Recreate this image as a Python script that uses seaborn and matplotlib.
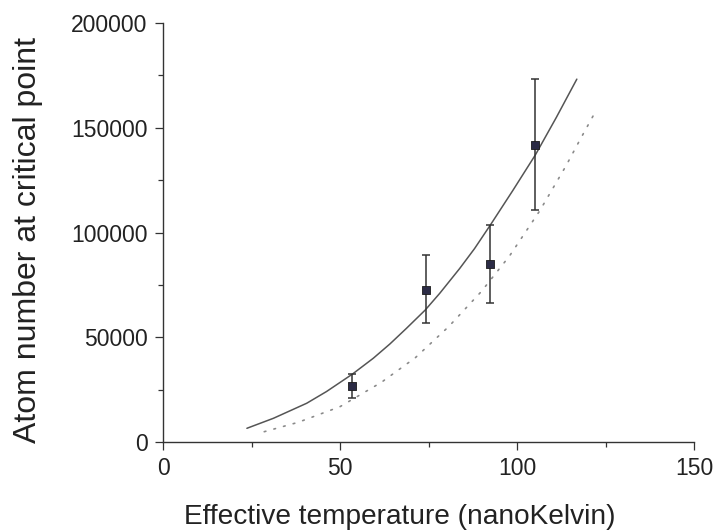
import matplotlib
matplotlib.use("Agg")
import matplotlib.pyplot as plt
from matplotlib.ticker import AutoMinorLocator
import numpy as np
import pandas as pd
import seaborn as sns

# Measured data points
temp_pts = [53.5, 74.3, 92.4, 105.0]
atoms_pts = [26900, 72700, 84900, 141700]
err_low = [20900, 57000, 66200, 110800]
err_high = [32600, 89300, 103500, 173300]

# Solid curve
solid_T = [23.7, 31.2, 40.6, 46.2, 53.5, 59.4, 64.1, 68.8, 74.1, 78.2, 83.8, 88.0, 92.5, 98.8, 105.2, 111.1, 116.9]
solid_N = [6540, 11320, 18500, 24100, 32400, 39970, 46800, 54300, 63040, 71020, 82800, 92300, 103640, 120000, 137070, 154900, 173200]

# Dotted curve
dot_T = [28.6, 38.2, 50.0, 61.7, 71.3, 80.7, 89.9, 97.9, 106.4, 113.8, 117.9, 122.1]
dot_N = [4920, 9400, 16860, 28500, 40260, 55070, 71780, 88830, 110300, 131700, 144600, 157500]

x_ticks = [0, 50, 100, 150]
y_ticks = [0, 50000, 100000, 150000, 200000]

sns.set_theme(style="ticks")
plt.rcParams['font.family'] = ['Liberation Sans', 'DejaVu Sans']

fig = plt.figure(figsize=(7.15, 5.31), dpi=100)
ax = fig.add_axes([163/715, 1-442/531, (694-163)/715, (442-23)/531])

txt = "#222222"
solid_df = pd.DataFrame({"T": solid_T, "N": solid_N})
dot_df = pd.DataFrame({"T": dot_T, "N": dot_N})
sns.lineplot(data=solid_df, x="T", y="N", sort=False, ax=ax, color="#555555", lw=1.1)
sns.lineplot(data=dot_df, x="T", y="N", sort=False, ax=ax, color="#8a8a8a", lw=1.2,
             linestyle=(0, (1, 5)), dash_capstyle="round")

yerr = np.array([np.array(atoms_pts) - np.array(err_low), np.array(err_high) - np.array(atoms_pts)])
ax.errorbar(temp_pts, atoms_pts, yerr=yerr, fmt="none", ecolor="#333333", elinewidth=1.1,
            capsize=3, capthick=1.1, zorder=3)
sns.scatterplot(x=temp_pts, y=atoms_pts, marker="s", s=40, color="#2b2b45",
                edgecolor="#1a1a1a", linewidth=0.6, ax=ax, zorder=4)

ax.set_xlim(0, 150)
ax.set_ylim(0, 200000)
ax.set_xticks(x_ticks)
ax.set_yticks(y_ticks)
ax.set_xticklabels([str(v) for v in x_ticks])
ax.set_yticklabels([str(v) for v in y_ticks])
ax.xaxis.set_minor_locator(AutoMinorLocator(2))
ax.yaxis.set_minor_locator(AutoMinorLocator(2))

for s in ["top", "right"]:
    ax.spines[s].set_visible(False)
for s in ["left", "bottom"]:
    ax.spines[s].set_linewidth(1.0)
    ax.spines[s].set_color("#333333")

ax.tick_params(which="major", direction="out", length=6, width=0.9, color="#333333",
               labelsize=16.5, labelcolor=txt, pad=5)
ax.tick_params(which="minor", direction="out", length=3.5, width=0.9, color="#333333")

ax.set_xlabel("")
ax.set_ylabel("")
fig.text(400/715, 1-517/531, "Effective temperature (nanoKelvin)", ha="center", va="center",
         fontsize=20.2, color=txt)
fig.text(28/715, 1-240/531, "Atom number at critical point", ha="center", va="center",
         rotation=90, fontsize=23, color=txt)

fig.savefig("out.png", dpi=100)
